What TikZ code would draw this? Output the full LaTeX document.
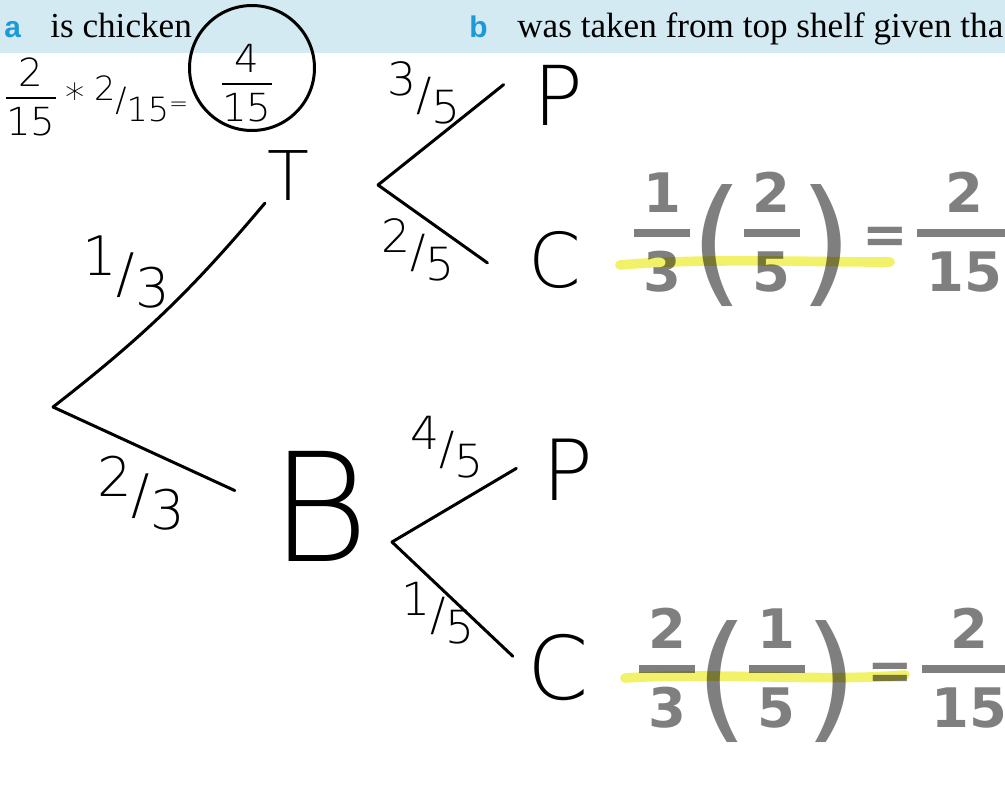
\RequirePackage{fix-cm}
\documentclass[tikz,border=0pt]{standalone}
\usepackage{fontspec}
\usepackage{graphicx}
\setmainfont{Liberation Serif}
\newfontfamily\headsans{Liberation Sans}
\newfontfamily\penthin{DejaVu Sans ExtraLight}
\newfontfamily\penmark{DejaVu Sans Bold}
\newfontfamily\penreg{DejaVu Sans}
\usetikzlibrary{positioning}
\definecolor{cbanner}{HTML}{D4EAF2}
\definecolor{cletter}{HTML}{1A9AD6}
\definecolor{cpen}{HTML}{7F7F7F}
\definecolor{chigh}{HTML}{F2F26A}
\newcommand{\sfr}[2]{\raisebox{0.32em}{#1}/\raisebox{-0.28em}{#2}}
\newcommand{\vfr}[2]{{\setlength{\arrayrulewidth}{1.3pt}\renewcommand{\arraystretch}{0.85}%
  \begin{tabular}{@{}c@{}}#1\\\hline \rule{0pt}{0.95em}#2\end{tabular}}}
\newcommand{\gfr}[2]{{\setlength{\arrayrulewidth}{4.5pt}\renewcommand{\arraystretch}{0.85}%
  \begin{tabular}{@{\,}c@{\,}}#1\\\hline \rule{0pt}{1.0em}#2\end{tabular}}}
\newcommand{\gpar}[1]{\raisebox{-20pt}{\penreg\fontsize{78}{78}\selectfont#1}}
\tikzset{
  pen/.style={draw=black, line width=1.7pt, line cap=round},
  leaf/.style={font=\penthin\fontsize{#1}{#1}\selectfont, inner sep=1pt},
  prob/.style={font=\penthin\fontsize{#1}{#1}\selectfont, inner sep=0pt},
  penwork/.style={font=\penmark\fontsize{31}{36}\selectfont, text=cpen, inner sep=0pt},
  hilite/.style={draw=chigh, line width=5.5pt, line cap=round, blend mode=multiply},
  tag/.style={font=\headsans\bfseries\fontsize{17}{18}\selectfont, text=cletter, inner sep=0pt},
  question/.style={font=\fontsize{20}{24}\selectfont, inner sep=0pt},
}
\begin{document}
\begin{tikzpicture}[x=0.02cm, y=-0.02cm]
  \useasboundingbox (0,0) rectangle (1005,812);
  % question strip
  \fill[cbanner] (0,0) rectangle (1005,53);
  \node[tag, anchor=base west] (qa) at (4,37) {a};
  \node[question, anchor=base west] (qatext) at (50,37) {is chicken};
  \node[tag, anchor=base west] (qb) at (469,37) {b};
  \node[question, anchor=base west] (qbtext) at (517,37) {was taken from top shelf given tha};
  % tree
  \coordinate (root) at (53,407);
  \node[leaf=39] (T) at (288,176) {T};
  \node[leaf=86] (B) at (320,506) {B};
  \coordinate (tfork) at (378,185);
  \coordinate (bfork) at (392,542);
  \node[leaf=47] (tP) at (558,95) {P};
  \node[leaf=43] (tC) at (555,260) {C};
  \node[leaf=48] (bP) at (568,470) {P};
  \node[leaf=50] (bC) at (558,668) {C};
  \draw[pen] (root) to[bend right=6] (T.south west);
  \draw[pen, shorten >=0.74cm] (root) -- (B.west);
  \draw[pen, shorten >=0.7cm] (tfork) -- (tP.north west);
  \draw[pen, shorten >=0.96cm] (tfork) -- (tC.south west);
  \draw[pen, shorten >=0.56cm] (bfork) -- (bP.150);
  \draw[pen, shorten >=0.34cm] (bfork) -- (bC.west);
  % branch labels
  \node[prob=31] (pT) at (126,272) {\sfr{1}{3}};
  \node[prob=31] (pB) at (141,493) {\sfr{2}{3}};
  \node[prob=26] (pTP) at (424,93) {\sfr{3}{5}};
  \node[prob=26] (pTC) at (418,250) {\sfr{2}{5}};
  \node[prob=26] (pBP) at (447,447) {\sfr{4}{5}};
  \node[prob=26] (pBC) at (438,613) {\sfr{1}{5}};
  % working
  \node[prob=22, anchor=west] (lhs) at (6,102) {\vfr{2}{15}\hspace{0.25em}*\hspace{0.25em}%
    {\fontsize{19}{19}\selectfont\sfr{2}{15}}{\fontsize{13}{13}\selectfont=}};
  \node[pen, circle, minimum size=2.5cm] (ring) at (252,68) {};
  \node[prob=22] (ans) at (247,88) {\vfr{4}{15}};
  \node[penwork, anchor=west] (cT) at (634,240) {\gfr{1}{3}\gpar{(}\gfr{2}{5}\gpar{)}\,=\,\gfr{2}{15}};
  \node[penwork, anchor=west] (cB) at (639,676) {\gfr{2}{3}\gpar{(}\gfr{1}{5}\gpar{)}\,=\,\gfr{2}{15}};
  \draw[hilite] (620,265) .. controls (700,258) and (800,262) .. (890,262);
  \draw[hilite] (625,678) .. controls (720,672) and (820,682) .. (905,675);
\end{tikzpicture}
\end{document}
